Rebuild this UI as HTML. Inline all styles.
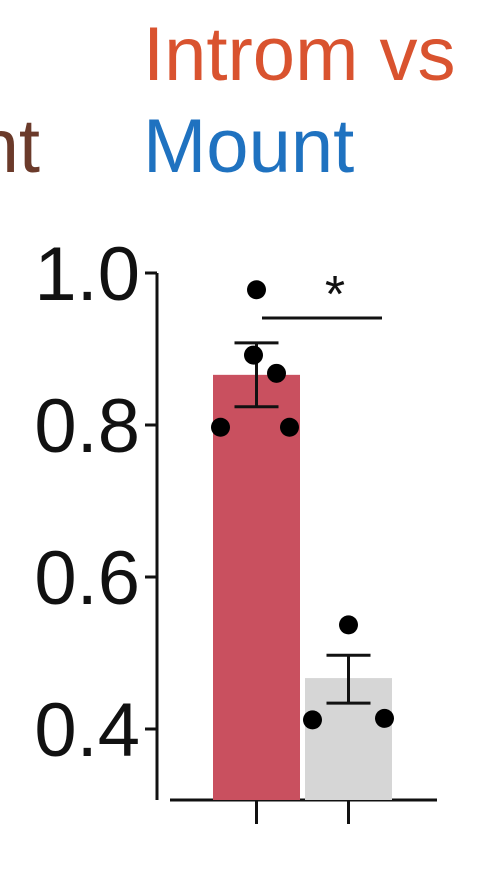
<!DOCTYPE html>
<html><head><meta charset="utf-8"><style>
html,body{margin:0;padding:0;background:#fff;}
svg{display:block;font-family:"Liberation Sans",Arial,sans-serif;}
</style></head><body>
<svg id="chart" width="498" height="884" viewBox="0 0 498 884">
<text x="143" y="80" font-size="76" fill="#d9532f">Introm vs</text>
<text x="40" y="172" font-size="76" text-anchor="end" fill="#6b3a2a">nt</text>
<text x="143" y="172" font-size="76" fill="#1f72c0">Mount</text>
<g id="plot"></g>
</svg>
<script>
const categories = ["Introm", "Mount"];
const means = [0.866, 0.467];
const errUpper = [0.908, 0.497];
const errLower = [0.824, 0.434];
const pointsA = [0.978, 0.892, 0.868, 0.797, 0.797];
const pointsB = [0.537, 0.412, 0.414];
const yTicks = [0.4, 0.6, 0.8, 1.0];
const yTickLabels = ["0.4", "0.6", "0.8", "1.0"];

const NS = "http://www.w3.org/2000/svg";
const g = document.getElementById("plot");
function y(v){ return 273 + (1 - v) * 760; }
const baseY = 800;
const barX = [213, 305], barW = 87;
const centers = barX.map(b => b + barW / 2);
function mk(tag, attrs){ const e = document.createElementNS(NS, tag); for (const k in attrs) e.setAttribute(k, attrs[k]); g.appendChild(e); return e; }

let ya = mk("line", {x1:157, y1:y(1.0), x2:157, y2:baseY, stroke:"#111", "stroke-width":3});


let xa = mk("line", {x1:170, y1:baseY, x2:437, y2:baseY, stroke:"#111", "stroke-width":3});


yTicks.forEach((t, i) => {
  let tk = mk("line", {x1:145, y1:y(t), x2:157, y2:y(t), stroke:"#111", "stroke-width":3});
  
  
  let lb = mk("text", {x:140, y:y(t) + 27, "font-size":76, "text-anchor":"end", fill:"#111"});
  lb.textContent = yTickLabels[i];
  
  
});
categories.forEach((c, i) => {
  let r = mk("rect", {x:barX[i], y:y(means[i]), width:barW, height:baseY - y(means[i]), fill: i === 0 ? "#c9505f" : "#d6d6d6"});
  
  
  let xt = mk("line", {x1:centers[i], y1:baseY, x2:centers[i], y2:baseY + 24, stroke:"#111", "stroke-width":3});
  
  
  const cx = centers[i];
  let e1 = mk("line", {x1:cx, y1:y(errUpper[i]), x2:cx, y2:y(errLower[i]), stroke:"#111", "stroke-width":3});
  
  
  [errUpper[i], errLower[i]].forEach(v => {
    let cap = mk("line", {x1:cx - 22, y1:y(v), x2:cx + 22, y2:y(v), stroke:"#111", "stroke-width":3});
    
    
  });
});
const offA = [0, -3, 20, -36, 33];
pointsA.forEach((v, i) => {
  let p = mk("circle", {cx:centers[0] + offA[i], cy:y(v), r:9.5, fill:"#000"});
  
  
});
const offB = [0, -36, 36];
pointsB.forEach((v, i) => {
  let p = mk("circle", {cx:centers[1] + offB[i], cy:y(v), r:9.5, fill:"#000"});
  
  
});
let sl = mk("line", {x1:262, y1:318, x2:382, y2:318, stroke:"#111", "stroke-width":3});


let st = mk("text", {x:335, y:312, "font-size":52, "text-anchor":"middle", fill:"#111"});
st.textContent = "*";


</script>
</body></html>
